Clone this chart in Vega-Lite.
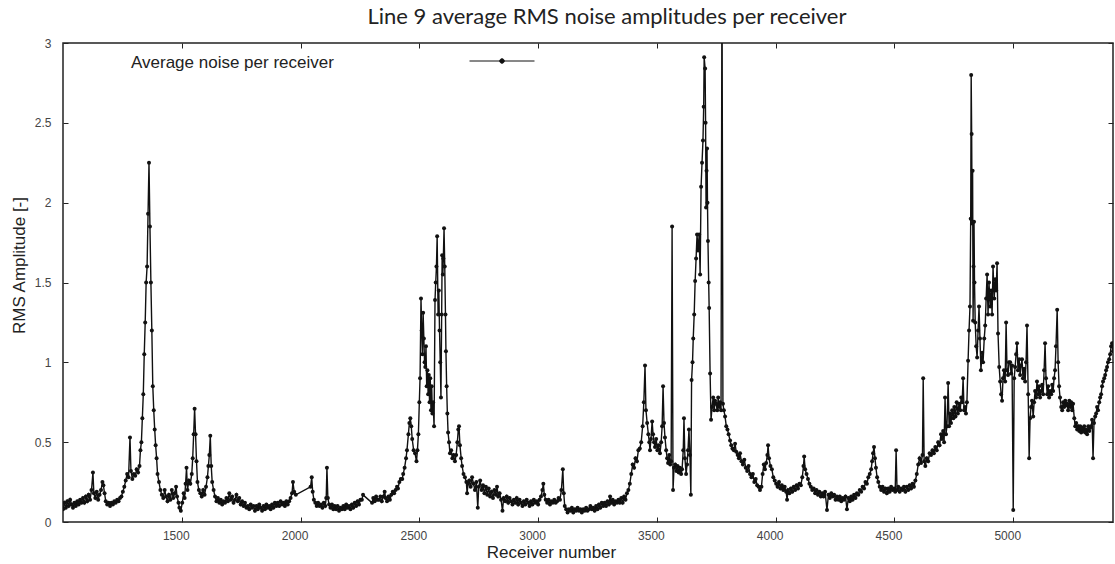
{
  "$schema": "https://vega.github.io/schema/vega-lite/v6.json",
  "width": 1050,
  "height": 479,
  "autosize": {"type": "none"},
  "padding": {"left": 63, "top": 43, "right": 2, "bottom": 42},
  "background": "white",
  "config": {
    "view": {"stroke": "#222", "strokeWidth": 1.5},
    "axis": {"grid": false, "domain": false, "tickColor": "#222", "tickSize": -5, "labelFont": "Liberation Sans", "labelFontSize": 12, "labelColor": "#444", "titleFont": "Liberation Sans", "titleFontSize": 17, "titleFontWeight": "normal", "titleColor": "#222"}
  },
  "title": {"text": "Line 9 average RMS noise amplitudes per receiver", "font": "Lato", "fontSize": 22, "fontWeight": "normal", "color": "#222", "anchor": "middle", "baseline": "alphabetic", "offset": 18, "dx": 19, "dy": 36},
  "datasets": {
    "noise": [
      {"r":1000,"a":0.08},{"r":1006,"a":0.12},{"r":1012,"a":0.09},{"r":1018,"a":0.13},{"r":1024,"a":0.1},{"r":1030,"a":0.14},{"r":1036,"a":0.11},{"r":1042,"a":0.09},{"r":1048,"a":0.12},{"r":1054,"a":0.1},{"r":1060,"a":0.13},{"r":1066,"a":0.11},{"r":1072,"a":0.14},{"r":1078,"a":0.12},{"r":1084,"a":0.15},{"r":1090,"a":0.12},{"r":1096,"a":0.16},{"r":1102,"a":0.13},{"r":1108,"a":0.17},{"r":1114,"a":0.14},{"r":1120,"a":0.2},{"r":1126,"a":0.31},{"r":1130,"a":0.18},{"r":1136,"a":0.15},{"r":1142,"a":0.19},{"r":1148,"a":0.14},{"r":1154,"a":0.17},{"r":1160,"a":0.2},{"r":1166,"a":0.25},{"r":1170,"a":0.23},{"r":1175,"a":0.18},{"r":1180,"a":0.13},{"r":1186,"a":0.11},{"r":1192,"a":0.12},{"r":1198,"a":0.1},{"r":1204,"a":0.12},{"r":1210,"a":0.11},{"r":1216,"a":0.13},{"r":1222,"a":0.12},{"r":1228,"a":0.14},{"r":1234,"a":0.13},{"r":1240,"a":0.15},{"r":1246,"a":0.16},{"r":1252,"a":0.19},{"r":1258,"a":0.22},{"r":1264,"a":0.26},{"r":1270,"a":0.3},{"r":1276,"a":0.28},{"r":1282,"a":0.53},{"r":1286,"a":0.32},{"r":1292,"a":0.27},{"r":1298,"a":0.3},{"r":1304,"a":0.29},{"r":1310,"a":0.33},{"r":1316,"a":0.31},{"r":1322,"a":0.35},{"r":1326,"a":0.45},{"r":1330,"a":0.5},{"r":1334,"a":0.65},{"r":1338,"a":0.8},{"r":1342,"a":1.05},{"r":1346,"a":1.25},{"r":1350,"a":1.5},{"r":1354,"a":1.6},{"r":1358,"a":1.93},{"r":1362,"a":2.25},{"r":1366,"a":1.85},{"r":1370,"a":1.5},{"r":1374,"a":1.2},{"r":1378,"a":0.85},{"r":1382,"a":0.7},{"r":1386,"a":0.58},{"r":1390,"a":0.48},{"r":1394,"a":0.4},{"r":1398,"a":0.3},{"r":1404,"a":0.25},{"r":1410,"a":0.2},
      {"r":1416,"a":0.17},{"r":1422,"a":0.15},{"r":1428,"a":0.2},{"r":1434,"a":0.16},{"r":1440,"a":0.13},{"r":1446,"a":0.17},{"r":1452,"a":0.14},{"r":1458,"a":0.2},{"r":1464,"a":0.15},{"r":1470,"a":0.18},{"r":1476,"a":0.22},{"r":1480,"a":0.16},{"r":1486,"a":0.12},{"r":1490,"a":0.09},{"r":1496,"a":0.07},{"r":1502,"a":0.12},{"r":1508,"a":0.18},{"r":1512,"a":0.15},{"r":1516,"a":0.24},{"r":1520,"a":0.34},{"r":1524,"a":0.2},{"r":1530,"a":0.26},{"r":1536,"a":0.24},{"r":1542,"a":0.3},{"r":1546,"a":0.4},{"r":1550,"a":0.55},{"r":1554,"a":0.71},{"r":1558,"a":0.55},{"r":1562,"a":0.38},{"r":1566,"a":0.25},{"r":1572,"a":0.2},{"r":1578,"a":0.18},{"r":1584,"a":0.16},{"r":1590,"a":0.2},{"r":1596,"a":0.17},{"r":1602,"a":0.22},{"r":1608,"a":0.28},{"r":1612,"a":0.35},{"r":1616,"a":0.42},{"r":1620,"a":0.54},{"r":1624,"a":0.35},{"r":1628,"a":0.25},{"r":1634,"a":0.2},{"r":1640,"a":0.16},{"r":1646,"a":0.13},
      {"r":1652,"a":0.15},{"r":1658,"a":0.12},{"r":1664,"a":0.14},{"r":1670,"a":0.11},{"r":1676,"a":0.13},{"r":1682,"a":0.12},{"r":1688,"a":0.15},{"r":1694,"a":0.13},{"r":1700,"a":0.18},{"r":1706,"a":0.14},{"r":1712,"a":0.16},{"r":1718,"a":0.12},{"r":1724,"a":0.14},{"r":1730,"a":0.17},{"r":1736,"a":0.13},{"r":1742,"a":0.15},{"r":1748,"a":0.11},{"r":1754,"a":0.13},{"r":1760,"a":0.1},{"r":1766,"a":0.12},{"r":1772,"a":0.09},{"r":1778,"a":0.1},{"r":1784,"a":0.08},{"r":1790,"a":0.11},{"r":1796,"a":0.09},{"r":1802,"a":0.1},{"r":1808,"a":0.07},{"r":1814,"a":0.1},{"r":1820,"a":0.08},{"r":1826,"a":0.11},{"r":1832,"a":0.09},{"r":1838,"a":0.07},{"r":1844,"a":0.1},{"r":1850,"a":0.08},{"r":1856,"a":0.11},{"r":1862,"a":0.09},{"r":1868,"a":0.1},{"r":1874,"a":0.08},{"r":1880,"a":0.11},{"r":1886,"a":0.09},{"r":1892,"a":0.12},{"r":1898,"a":0.1},{"r":1904,"a":0.12},{"r":1910,"a":0.1},{"r":1916,"a":0.13},{"r":1922,"a":0.11},{"r":1928,"a":0.12},{"r":1934,"a":0.1},{"r":1940,"a":0.13},{"r":1946,"a":0.11},{"r":1952,"a":0.13},{"r":1958,"a":0.15},{"r":1964,"a":0.18},{"r":1968,"a":0.25},{"r":1973,"a":0.19},{"r":1980,"a":0.17},
      {"r":2042,"a":0.22},{"r":2047,"a":0.28},{"r":2051,"a":0.19},{"r":2056,"a":0.14},{"r":2062,"a":0.12},{"r":2068,"a":0.1},{"r":2074,"a":0.12},{"r":2080,"a":0.1},{"r":2086,"a":0.11},{"r":2092,"a":0.09},{"r":2098,"a":0.12},{"r":2104,"a":0.1},{"r":2108,"a":0.15},{"r":2111,"a":0.34},{"r":2115,"a":0.15},{"r":2120,"a":0.11},{"r":2126,"a":0.09},{"r":2132,"a":0.11},{"r":2138,"a":0.08},{"r":2144,"a":0.1},{"r":2150,"a":0.08},{"r":2156,"a":0.1},{"r":2162,"a":0.07},{"r":2168,"a":0.09},{"r":2174,"a":0.08},{"r":2180,"a":0.1},{"r":2186,"a":0.08},{"r":2192,"a":0.11},{"r":2198,"a":0.09},{"r":2204,"a":0.1},{"r":2210,"a":0.08},{"r":2216,"a":0.11},{"r":2222,"a":0.09},{"r":2228,"a":0.12},{"r":2234,"a":0.1},{"r":2240,"a":0.13},{"r":2246,"a":0.11},{"r":2252,"a":0.14},{"r":2258,"a":0.14},{"r":2263,"a":0.17},
      {"r":2301,"a":0.12},{"r":2306,"a":0.15},{"r":2312,"a":0.13},{"r":2318,"a":0.16},{"r":2324,"a":0.14},{"r":2330,"a":0.14},{"r":2336,"a":0.16},{"r":2342,"a":0.13},{"r":2348,"a":0.16},{"r":2354,"a":0.19},{"r":2358,"a":0.15},{"r":2364,"a":0.13},{"r":2370,"a":0.16},{"r":2376,"a":0.14},{"r":2382,"a":0.17},{"r":2388,"a":0.19},{"r":2394,"a":0.18},{"r":2400,"a":0.2},{"r":2406,"a":0.22},{"r":2410,"a":0.21},{"r":2416,"a":0.25},{"r":2422,"a":0.27},{"r":2428,"a":0.27},{"r":2432,"a":0.3},{"r":2438,"a":0.34},{"r":2444,"a":0.4},{"r":2448,"a":0.45},{"r":2454,"a":0.55},{"r":2458,"a":0.62},{"r":2462,"a":0.65},{"r":2466,"a":0.6},{"r":2470,"a":0.52},{"r":2476,"a":0.45},{"r":2482,"a":0.43},{"r":2488,"a":0.38},{"r":2492,"a":0.45},{"r":2496,"a":0.55},{"r":2500,"a":0.75},{"r":2503,"a":0.9},{"r":2507,"a":1.4},{"r":2510,"a":1.2},{"r":2513,"a":1.05},{"r":2516,"a":1.31},{"r":2519,"a":1.15},{"r":2522,"a":1.0},{"r":2525,"a":0.97},{"r":2528,"a":1.1},{"r":2531,"a":0.85},{"r":2534,"a":0.95},{"r":2537,"a":0.8},{"r":2540,"a":0.92},{"r":2543,"a":0.75},{"r":2546,"a":0.9},{"r":2549,"a":0.7},{"r":2552,"a":0.85},{"r":2555,"a":0.68},{"r":2558,"a":0.75},{"r":2562,"a":0.6},{"r":2566,"a":1.39},{"r":2569,"a":1.5},{"r":2572,"a":1.6},{"r":2575,"a":1.79},{"r":2579,"a":1.3},{"r":2582,"a":1.45},{"r":2585,"a":1.2},{"r":2588,"a":1.0},{"r":2591,"a":0.78},{"r":2594,"a":1.3},{"r":2596,"a":1.67},{"r":2599,"a":1.55},{"r":2601,"a":1.65},{"r":2604,"a":1.84},{"r":2607,"a":1.6},{"r":2610,"a":1.3},{"r":2612,"a":1.07},{"r":2615,"a":0.85},{"r":2618,"a":0.68},{"r":2621,"a":0.56},{"r":2625,"a":0.5},{"r":2629,"a":0.43},{"r":2634,"a":0.45},{"r":2639,"a":0.4},{"r":2644,"a":0.42},{"r":2650,"a":0.38},{"r":2655,"a":0.42},{"r":2660,"a":0.5},{"r":2664,"a":0.58},{"r":2667,"a":0.6},{"r":2671,"a":0.48},{"r":2676,"a":0.4},{"r":2680,"a":0.35},{"r":2686,"a":0.3},{"r":2692,"a":0.28},{"r":2698,"a":0.25},{"r":2701,"a":0.18},{"r":2705,"a":0.24},
      {"r":2710,"a":0.26},{"r":2716,"a":0.22},{"r":2722,"a":0.28},{"r":2728,"a":0.24},{"r":2734,"a":0.2},{"r":2740,"a":0.25},{"r":2746,"a":0.09},{"r":2750,"a":0.22},{"r":2756,"a":0.26},{"r":2762,"a":0.2},{"r":2768,"a":0.23},{"r":2774,"a":0.18},{"r":2780,"a":0.22},{"r":2786,"a":0.17},{"r":2792,"a":0.21},{"r":2798,"a":0.16},{"r":2804,"a":0.19},{"r":2810,"a":0.15},{"r":2816,"a":0.2},{"r":2822,"a":0.17},{"r":2827,"a":0.22},{"r":2832,"a":0.16},{"r":2838,"a":0.18},{"r":2844,"a":0.14},{"r":2850,"a":0.07},{"r":2855,"a":0.15},{"r":2862,"a":0.13},{"r":2868,"a":0.16},{"r":2874,"a":0.12},{"r":2880,"a":0.15},{"r":2886,"a":0.13},{"r":2892,"a":0.11},{"r":2898,"a":0.14},{"r":2904,"a":0.12},{"r":2910,"a":0.15},{"r":2916,"a":0.11},{"r":2922,"a":0.14},{"r":2928,"a":0.12},{"r":2934,"a":0.1},{"r":2940,"a":0.13},{"r":2946,"a":0.11},{"r":2952,"a":0.14},{"r":2958,"a":0.12},{"r":2964,"a":0.1},{"r":2970,"a":0.13},{"r":2976,"a":0.11},{"r":2982,"a":0.14},{"r":2988,"a":0.12},{"r":2994,"a":0.13},{"r":3000,"a":0.11},{"r":3006,"a":0.14},{"r":3012,"a":0.16},{"r":3018,"a":0.2},{"r":3022,"a":0.24},{"r":3026,"a":0.17},{"r":3032,"a":0.14},{"r":3038,"a":0.12},{"r":3044,"a":0.14},{"r":3050,"a":0.11},{"r":3056,"a":0.13},{"r":3062,"a":0.12},{"r":3068,"a":0.14},{"r":3074,"a":0.12},{"r":3080,"a":0.13},{"r":3086,"a":0.15},{"r":3092,"a":0.14},{"r":3098,"a":0.2},{"r":3104,"a":0.33},{"r":3108,"a":0.18},{"r":3112,"a":0.1},{"r":3118,"a":0.08},{"r":3124,"a":0.06},{"r":3130,"a":0.08},{"r":3136,"a":0.07},{"r":3142,"a":0.09},{"r":3148,"a":0.06},{"r":3154,"a":0.08},{"r":3160,"a":0.07},{"r":3166,"a":0.09},{"r":3172,"a":0.07},{"r":3178,"a":0.08},{"r":3184,"a":0.06},{"r":3190,"a":0.08},{"r":3196,"a":0.07},{"r":3202,"a":0.09},{"r":3208,"a":0.07},{"r":3214,"a":0.08},{"r":3220,"a":0.1},{"r":3226,"a":0.08},{"r":3232,"a":0.09},{"r":3238,"a":0.07},{"r":3244,"a":0.1},{"r":3250,"a":0.08},{"r":3256,"a":0.11},{"r":3262,"a":0.09},{"r":3268,"a":0.12},{"r":3274,"a":0.1},{"r":3280,"a":0.12},{"r":3286,"a":0.1},{"r":3292,"a":0.13},{"r":3298,"a":0.11},{"r":3303,"a":0.16},{"r":3308,"a":0.12},{"r":3314,"a":0.14},{"r":3320,"a":0.11},{"r":3326,"a":0.13},{"r":3332,"a":0.12},{"r":3338,"a":0.14},{"r":3344,"a":0.12},{"r":3350,"a":0.15},{"r":3356,"a":0.12},{"r":3362,"a":0.16},{"r":3368,"a":0.14},{"r":3374,"a":0.18},{"r":3380,"a":0.2},{"r":3386,"a":0.24},{"r":3392,"a":0.3},{"r":3398,"a":0.36},{"r":3404,"a":0.34},{"r":3410,"a":0.4},{"r":3416,"a":0.38},{"r":3422,"a":0.45},{"r":3428,"a":0.46},
      {"r":3434,"a":0.5},{"r":3440,"a":0.6},{"r":3445,"a":0.75},{"r":3450,"a":0.98},{"r":3454,"a":0.7},{"r":3459,"a":0.62},{"r":3464,"a":0.55},{"r":3468,"a":0.5},{"r":3471,"a":0.45},{"r":3475,"a":0.52},{"r":3480,"a":0.63},{"r":3484,"a":0.55},{"r":3488,"a":0.5},{"r":3492,"a":0.47},{"r":3497,"a":0.52},{"r":3502,"a":0.45},{"r":3507,"a":0.48},{"r":3513,"a":0.43},{"r":3518,"a":0.5},{"r":3522,"a":0.6},{"r":3526,"a":0.85},{"r":3530,"a":0.62},{"r":3534,"a":0.53},{"r":3539,"a":0.45},{"r":3543,"a":0.4},{"r":3547,"a":0.37},{"r":3552,"a":0.42},{"r":3556,"a":0.36},{"r":3560,"a":0.38},{"r":3564,"a":1.85},{"r":3568,"a":0.2},{"r":3572,"a":0.34},{"r":3577,"a":0.36},{"r":3582,"a":0.32},{"r":3587,"a":0.35},{"r":3592,"a":0.31},{"r":3597,"a":0.34},{"r":3602,"a":0.3},{"r":3606,"a":0.33},{"r":3611,"a":0.45},{"r":3614,"a":0.65},{"r":3618,"a":0.4},{"r":3623,"a":0.3},{"r":3627,"a":0.36},{"r":3631,"a":0.45},{"r":3635,"a":0.58},{"r":3639,"a":0.42},{"r":3643,"a":0.17},{"r":3646,"a":0.89},{"r":3650,"a":1.0},{"r":3653,"a":1.15},{"r":3657,"a":1.3},{"r":3661,"a":1.51},{"r":3665,"a":1.65},{"r":3669,"a":1.8},{"r":3673,"a":1.7},{"r":3678,"a":1.8},{"r":3682,"a":1.55},{"r":3686,"a":2.1},{"r":3690,"a":2.25},{"r":3694,"a":2.39},{"r":3697,"a":2.6},{"r":3699,"a":2.91},{"r":3703,"a":2.84},{"r":3705,"a":2.5},{"r":3707,"a":1.97},{"r":3709,"a":2.2},{"r":3711,"a":2.34},{"r":3713,"a":2.0},{"r":3715,"a":1.76},{"r":3718,"a":1.5},{"r":3720,"a":1.34},{"r":3724,"a":0.93},{"r":3728,"a":0.64},{"r":3732,"a":0.72},{"r":3737,"a":0.78},{"r":3741,"a":0.7},{"r":3745,"a":0.76},{"r":3749,"a":0.74},{"r":3754,"a":0.7},{"r":3758,"a":0.78},{"r":3762,"a":0.72},{"r":3766,"a":0.75},{"r":3770,"a":0.7},{"r":3774,"a":3.5},{"r":3778,"a":0.74},{"r":3782,"a":0.7},{"r":3787,"a":0.66},{"r":3792,"a":0.6},{"r":3797,"a":0.58},{"r":3802,"a":0.55},{"r":3808,"a":0.51},{"r":3813,"a":0.48},{"r":3818,"a":0.46},{"r":3824,"a":0.45},{"r":3829,"a":0.49},{"r":3834,"a":0.44},{"r":3840,"a":0.42},{"r":3845,"a":0.4},{"r":3850,"a":0.43},{"r":3856,"a":0.38},{"r":3862,"a":0.36},{"r":3868,"a":0.39},{"r":3874,"a":0.34},{"r":3880,"a":0.32},{"r":3886,"a":0.35},{"r":3892,"a":0.3},{"r":3898,"a":0.28},{"r":3904,"a":0.3},{"r":3910,"a":0.25},{"r":3916,"a":0.27},{"r":3922,"a":0.23},{"r":3928,"a":0.22},{"r":3934,"a":0.2},{"r":3940,"a":0.22},{"r":3945,"a":0.3},{"r":3950,"a":0.36},{"r":3955,"a":0.33},{"r":3960,"a":0.37},{"r":3965,"a":0.42},{"r":3968,"a":0.48},{"r":3972,"a":0.4},{"r":3978,"a":0.35},{"r":3984,"a":0.33},{"r":3990,"a":0.28},{"r":3996,"a":0.26},
      {"r":4002,"a":0.24},{"r":4008,"a":0.22},{"r":4014,"a":0.25},{"r":4020,"a":0.21},{"r":4026,"a":0.23},{"r":4032,"a":0.2},{"r":4038,"a":0.22},{"r":4044,"a":0.19},{"r":4048,"a":0.14},{"r":4052,"a":0.2},{"r":4058,"a":0.18},{"r":4064,"a":0.21},{"r":4070,"a":0.19},{"r":4076,"a":0.22},{"r":4082,"a":0.2},{"r":4088,"a":0.23},{"r":4094,"a":0.21},{"r":4100,"a":0.24},{"r":4106,"a":0.23},{"r":4112,"a":0.28},{"r":4117,"a":0.35},{"r":4120,"a":0.41},{"r":4124,"a":0.33},{"r":4130,"a":0.3},{"r":4136,"a":0.27},{"r":4142,"a":0.24},{"r":4148,"a":0.22},{"r":4154,"a":0.2},{"r":4160,"a":0.21},{"r":4166,"a":0.18},{"r":4172,"a":0.2},{"r":4178,"a":0.17},{"r":4184,"a":0.19},{"r":4190,"a":0.16},{"r":4196,"a":0.18},{"r":4202,"a":0.16},{"r":4208,"a":0.19},{"r":4216,"a":0.075},{"r":4222,"a":0.17},{"r":4228,"a":0.15},{"r":4234,"a":0.18},{"r":4240,"a":0.16},{"r":4246,"a":0.17},{"r":4252,"a":0.14},{"r":4258,"a":0.16},{"r":4264,"a":0.14},{"r":4270,"a":0.16},{"r":4276,"a":0.13},{"r":4282,"a":0.15},{"r":4288,"a":0.14},{"r":4294,"a":0.16},{"r":4300,"a":0.08},{"r":4306,"a":0.15},{"r":4312,"a":0.13},{"r":4318,"a":0.16},{"r":4324,"a":0.14},{"r":4330,"a":0.17},{"r":4336,"a":0.15},{"r":4342,"a":0.18},{"r":4348,"a":0.17},{"r":4354,"a":0.2},{"r":4360,"a":0.19},{"r":4366,"a":0.22},{"r":4372,"a":0.21},{"r":4378,"a":0.25},{"r":4384,"a":0.24},{"r":4390,"a":0.28},{"r":4396,"a":0.3},{"r":4402,"a":0.33},{"r":4406,"a":0.38},{"r":4410,"a":0.43},{"r":4414,"a":0.47},{"r":4418,"a":0.4},{"r":4422,"a":0.34},{"r":4427,"a":0.28},{"r":4432,"a":0.25},{"r":4438,"a":0.22},{"r":4444,"a":0.2},{"r":4450,"a":0.22},{"r":4456,"a":0.19},{"r":4462,"a":0.21},{"r":4468,"a":0.18},{"r":4474,"a":0.21},{"r":4480,"a":0.19},{"r":4486,"a":0.22},{"r":4492,"a":0.2},{"r":4498,"a":0.21},{"r":4503,"a":0.19},{"r":4507,"a":0.45},{"r":4511,"a":0.2},{"r":4516,"a":0.22},{"r":4522,"a":0.19},{"r":4528,"a":0.21},{"r":4534,"a":0.2},{"r":4540,"a":0.22},{"r":4546,"a":0.19},{"r":4552,"a":0.22},{"r":4558,"a":0.2},{"r":4564,"a":0.23},{"r":4570,"a":0.21},{"r":4576,"a":0.24},{"r":4582,"a":0.22},{"r":4588,"a":0.26},{"r":4594,"a":0.3},{"r":4600,"a":0.36},{"r":4606,"a":0.4},{"r":4612,"a":0.37},{"r":4618,"a":0.42},{"r":4621,"a":0.9},{"r":4625,"a":0.38},{"r":4630,"a":0.35},{"r":4636,"a":0.4},{"r":4642,"a":0.38},{"r":4648,"a":0.43},{"r":4654,"a":0.42},{"r":4660,"a":0.45},{"r":4666,"a":0.43},{"r":4672,"a":0.47},{"r":4678,"a":0.45},{"r":4684,"a":0.5},{"r":4690,"a":0.48},{"r":4696,"a":0.55},
      {"r":4700,"a":0.52},{"r":4705,"a":0.57},{"r":4709,"a":0.5},{"r":4713,"a":0.78},{"r":4717,"a":0.55},{"r":4721,"a":0.6},{"r":4726,"a":0.87},{"r":4730,"a":0.6},{"r":4734,"a":0.68},{"r":4738,"a":0.62},{"r":4743,"a":0.7},{"r":4748,"a":0.65},{"r":4752,"a":0.72},{"r":4757,"a":0.66},{"r":4762,"a":0.75},{"r":4767,"a":0.68},{"r":4772,"a":0.74},{"r":4777,"a":0.7},{"r":4781,"a":0.78},{"r":4785,"a":0.75},{"r":4789,"a":0.9},{"r":4793,"a":0.7},{"r":4797,"a":0.72},{"r":4801,"a":0.68},{"r":4805,"a":0.75},{"r":4810,"a":1.01},{"r":4814,"a":1.2},{"r":4818,"a":1.35},{"r":4821,"a":1.9},{"r":4823,"a":2.8},{"r":4825,"a":2.43},{"r":4827,"a":1.87},{"r":4829,"a":2.2},{"r":4831,"a":1.26},{"r":4833,"a":1.6},{"r":4835,"a":1.88},{"r":4837,"a":1.5},{"r":4840,"a":1.25},{"r":4844,"a":1.1},{"r":4848,"a":1.03},{"r":4852,"a":1.2},{"r":4856,"a":1.35},{"r":4860,"a":1.15},{"r":4864,"a":0.95},{"r":4869,"a":1.06},{"r":4873,"a":1.0},{"r":4878,"a":1.15},{"r":4882,"a":1.23},{"r":4886,"a":1.4},{"r":4890,"a":1.55},{"r":4894,"a":1.3},{"r":4898,"a":1.5},{"r":4903,"a":1.35},{"r":4907,"a":1.45},{"r":4911,"a":1.3},{"r":4915,"a":1.6},{"r":4920,"a":1.4},{"r":4924,"a":1.52},{"r":4928,"a":1.45},{"r":4932,"a":1.62},{"r":4936,"a":1.18},{"r":4941,"a":0.97},{"r":4945,"a":0.88},{"r":4949,"a":0.8},{"r":4953,"a":0.76},{"r":4957,"a":0.9},{"r":4961,"a":0.95},{"r":4966,"a":0.88},{"r":4970,"a":1.25},{"r":4974,"a":0.95},{"r":4978,"a":0.92},{"r":4982,"a":1.0},{"r":4987,"a":1.0},{"r":4991,"a":0.93},{"r":4995,"a":0.98},{"r":5000,"a":0.075},{"r":5004,"a":0.9},{"r":5008,"a":0.97},{"r":5012,"a":1.05},{"r":5016,"a":1.12},{"r":5020,"a":0.95},{"r":5025,"a":1.02},{"r":5029,"a":0.92},{"r":5033,"a":0.98},{"r":5037,"a":1.02},{"r":5041,"a":0.9},{"r":5046,"a":0.96},{"r":5050,"a":0.88},{"r":5054,"a":1.0},{"r":5058,"a":1.23},{"r":5063,"a":0.8},{"r":5067,"a":0.4},{"r":5071,"a":0.65},{"r":5075,"a":0.72},{"r":5079,"a":0.76},{"r":5084,"a":0.66},{"r":5088,"a":0.75},{"r":5092,"a":0.82},{"r":5096,"a":0.78},{"r":5100,"a":0.88},{"r":5105,"a":0.8},{"r":5109,"a":0.85},{"r":5113,"a":0.78},{"r":5118,"a":0.82},{"r":5122,"a":0.86},{"r":5126,"a":0.8},{"r":5130,"a":0.95},{"r":5134,"a":1.12},{"r":5138,"a":0.9},{"r":5143,"a":0.8},{"r":5147,"a":0.85},{"r":5151,"a":0.78},{"r":5155,"a":0.82},{"r":5160,"a":0.8},{"r":5164,"a":0.86},{"r":5168,"a":0.82},{"r":5172,"a":0.9},{"r":5176,"a":0.95},{"r":5180,"a":1.1},{"r":5185,"a":1.33},{"r":5189,"a":1.0},{"r":5193,"a":0.85},{"r":5197,"a":0.78},{"r":5202,"a":0.72},{"r":5206,"a":0.7},{"r":5210,"a":0.75},{"r":5214,"a":0.72},{"r":5219,"a":0.76},{"r":5223,"a":0.73},{"r":5227,"a":0.74},{"r":5231,"a":0.7},{"r":5236,"a":0.76},{"r":5240,"a":0.72},{"r":5244,"a":0.75},{"r":5248,"a":0.7},{"r":5252,"a":0.74},{"r":5257,"a":0.65},{"r":5261,"a":0.6},{"r":5265,"a":0.62},{"r":5269,"a":0.58},{"r":5273,"a":0.6},{"r":5278,"a":0.57},{"r":5282,"a":0.6},{"r":5286,"a":0.56},{"r":5290,"a":0.59},{"r":5294,"a":0.57},{"r":5299,"a":0.6},{"r":5303,"a":0.56},{"r":5307,"a":0.58},{"r":5311,"a":0.55},{"r":5316,"a":0.6},{"r":5320,"a":0.57},{"r":5324,"a":0.59},{"r":5328,"a":0.6},{"r":5332,"a":0.64},{"r":5336,"a":0.4},{"r":5340,"a":0.62},{"r":5345,"a":0.66},{"r":5349,"a":0.68},{"r":5353,"a":0.72},{"r":5357,"a":0.7},{"r":5362,"a":0.75},{"r":5366,"a":0.78},{"r":5370,"a":0.8},{"r":5374,"a":0.85},{"r":5378,"a":0.88},{"r":5383,"a":0.9},{"r":5387,"a":0.92},{"r":5391,"a":0.95},{"r":5395,"a":0.97},{"r":5399,"a":1.0},{"r":5404,"a":1.02},{"r":5408,"a":1.05},{"r":5412,"a":1.1},{"r":5416,"a":1.12},{"r":5420,"a":1.07}
    ],
    "frame": [{"r":1000,"a":0}]
  },
  "layer": [
    {
      "data": {"name": "noise"},
      "mark": {"type": "line", "color": "#111", "strokeWidth": 1.4, "clip": true, "point": {"filled": true, "size": 16, "color": "#111"}},
      "encoding": {
        "x": {"field": "r", "type": "quantitative", "scale": {"domain": [1000, 5420], "nice": false, "zero": false}, "axis": {"values": [1500, 2000, 2500, 3000, 3500, 4000, 4500, 5000], "format": "d", "labelPadding": 13, "labelOffset": -6, "title": "Receiver number", "titleX": 488, "titlePadding": 3}},
        "y": {"field": "a", "type": "quantitative", "scale": {"domain": [0, 3], "nice": false}, "axis": {"values": [0, 0.5, 1, 1.5, 2, 2.5, 3], "format": "~g", "labelPadding": 17, "title": "RMS Amplitude [-]", "titleY": 222, "titlePadding": 6}},
        "color": {"datum": "Average noise per receiver", "type": "nominal", "scale": {"range": ["#111111"]}, "legend": {"orient": "none", "legendX": 68, "legendY": -15, "title": "Average noise per receiver", "titleOrient": "left", "titleAnchor": "end", "titleBaseline": "alphabetic", "titleLimit": 400, "titleFont": "Liberation Sans", "titleFontSize": 17, "titleFontWeight": "normal", "titleColor": "#222", "titlePadding": 135, "labelExpr": "''", "symbolType": "M-1,0L1,0M-0.07,0A0.07,0.07,0,1,1,0.07,0A0.07,0.07,0,1,1,-0.07,0ZM0,0.16L0.0001,0.16", "symbolSize": 4225, "symbolStrokeWidth": 1, "symbolStrokeColor": "#111", "symbolFillColor": "#111", "padding": 0, "labelLimit": 1}}
      }
    },
    {
      "data": {"name": "frame"},
      "mark": {"type": "point", "opacity": 0},
      "encoding": {
        "x": {"field": "r", "type": "quantitative", "scale": {"domain": [1000, 5420], "nice": false, "zero": false}, "axis": {"orient": "top", "values": [1500, 2000, 2500, 3000, 3500, 4000, 4500, 5000], "labels": false, "title": null}},
        "y": {"field": "a", "type": "quantitative", "scale": {"domain": [0, 3], "nice": false}, "axis": {"orient": "right", "values": [0, 0.5, 1, 1.5, 2, 2.5, 3], "labels": false, "title": null}}
      }
    }
  ],
  "resolve": {"axis": {"x": "independent", "y": "independent"}}
}
